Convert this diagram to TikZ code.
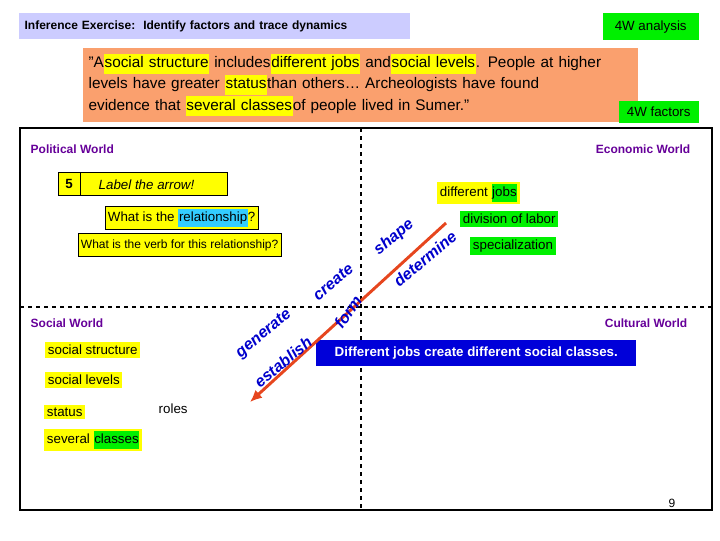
\documentclass[tikz,border=0pt]{standalone}
\usepackage{fontspec}
\setmainfont{Liberation Sans}
\usetikzlibrary{positioning,arrows.meta}
\definecolor{lav}{RGB}{204,204,255}
\definecolor{grn}{RGB}{0,240,0}
\definecolor{orng}{RGB}{250,160,110}
\definecolor{yel}{RGB}{255,255,0}
\definecolor{cyn}{RGB}{51,204,255}
\definecolor{purp}{RGB}{102,0,153}
\definecolor{arr}{RGB}{230,70,30}
\newcommand{\hl}[2][yel]{{\setlength{\fboxsep}{0.5pt}\colorbox{#1}{\strut #2}}}
\begin{document}
\begin{tikzpicture}[
    x=0.75pt, y=-0.75pt,
    tag/.style={draw=black, fill=yel, inner sep=2pt, anchor=west, font=\normalsize},
    greentag/.style={fill=grn, inner sep=2pt, anchor=west, font=\normalsize},
    yeltag/.style={fill=yel, inner sep=2pt, anchor=west, font=\normalsize},
    world/.style={text=purp, font=\small\bfseries},
    verb/.style={text=blue!80!black, font=\large\bfseries\itshape},
    arrow/.style={line width=2.2pt, draw=arr, -{Latex[length=9pt,width=8pt]}}
]
\useasboundingbox (0,0) rectangle (720,540);
% header
\node[fill=lav, minimum width=293pt, minimum height=19pt, anchor=north west, font=\small\bfseries, text width=285pt] (title) at (19,13) {Inference Exercise:\ \ Identify factors and trace dynamics};
\node[fill=grn, minimum width=72pt, minimum height=20pt, anchor=north east, font=\normalsize] (analysis) at (699,13) {4W analysis};
\node[fill=orng, minimum width=416pt, minimum height=55pt, anchor=north west, align=left, text width=408pt, font=\fontsize{11.5}{14}\selectfont, inner sep=4pt] (quote) at (83,48)
  {"A\hl{social structure} includes\hl{different jobs} and\hl{social levels}. People at higher\\ levels have greater \hl{status}than others\dots\ Archeologists have found\\ evidence that \hl{several classes}of people lived in Sumer."};
\node[fill=grn, minimum width=60pt, minimum height=16pt, anchor=north east, font=\normalsize] (factors) at (699,101) {4W factors};
% frame
\draw[line width=2pt] (20,128) rectangle (712,510);
\draw[line width=1.5pt, dashed] (361,128) -- (361,510);
\draw[line width=1.5pt, dashed] (20,307) -- (712,307);
% worlds
\node[world, anchor=west] (pol) at (26,149) {Political World};
\node[world, anchor=east] (eco) at (695,149) {Economic World};
\node[world, anchor=west] (soc) at (26,323) {Social World};
\node[world, anchor=east] (cul) at (692,323) {Cultural World};
% prompts
\node[draw, fill=yel, minimum width=127pt, minimum height=17pt, anchor=west] (label) at (58,184) {};
\draw (80,173) -- (80,196);
\node[font=\bfseries] (five) at (69,184) {5};
\node[anchor=west, font=\normalsize\itshape] (labeltxt) at (94,185) {Label the arrow!};
\node[tag, minimum height=17pt] (rel) at (105,218) {What is the \hl[cyn]{relationship}?};
\node[tag, font=\small, minimum height=17pt] (verbq) at (78,245) {What is the verb for this relationship?};
% economic factors
\node[yeltag] (jobs) at (437,193) {different \hl[grn]{jobs}};
\node[greentag] (labor) at (460,219) {division of labor};
\node[greentag] (spec) at (470,246) {specialization};
% social factors
\node[yeltag] (struct) at (45,350) {social structure};
\node[yeltag] (levels) at (45,380) {social levels};
\node[yeltag] (status) at (44,412) {status};
\node[anchor=west, font=\normalsize] (roles) at (154,409) {roles};
\node[yeltag] (several) at (44,440) {several \hl[grn]{classes}};
% statement
\node[fill=blue!85!black, text=white, minimum width=240pt, minimum height=20pt, font=\normalsize\bfseries, anchor=west] (stmt) at (316,353) {Different jobs create different social classes.};
% arrow and verbs
\coordinate (top) at (446,223);
\coordinate (tip) at (250,402);
\draw[arrow] (top) -- (tip);
\node[verb, rotate=40] (gen) at (264,334) {generate};
\node[verb, rotate=40] (est) at (283,362) {establish};
\node[verb, rotate=40] (cre) at (333,282) {create};
\node[verb, rotate=55] (frm) at (348,312) {form};
\node[verb, rotate=40] (shp) at (394,237) {shape};
\node[verb, rotate=40] (det) at (425,259) {determine};
\node[font=\small] (page) at (672,503) {9};
\end{tikzpicture}
\end{document}
